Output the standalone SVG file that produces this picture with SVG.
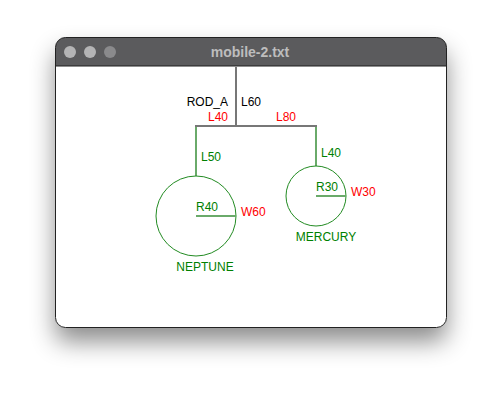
<svg xmlns="http://www.w3.org/2000/svg" width="502" height="402" viewBox="0 0 502 402">
<defs>
<filter id="shadow" x="-30%" y="-30%" width="160%" height="170%">
<feDropShadow dx="0" dy="14" stdDeviation="12" flood-color="#000" flood-opacity="0.45"/>
</filter>
<clipPath id="win"><rect x="55.5" y="37.5" width="391" height="290" rx="10"/></clipPath>
</defs>
<style>
text{font-family:"Liberation Sans",Arial,Helvetica,sans-serif;font-size:12px}
.blk{fill:#000}
.red{fill:#ff0000}
.grn{fill:#008000}
.rod{stroke:#777;stroke-width:2;fill:none}
.gl{stroke:#6aaa6a;stroke-width:2;fill:none}
.circ{stroke:#228b22;stroke-width:1;fill:none}
</style>
<rect width="502" height="402" fill="#fff"/>
<g id="window">
<rect x="55.5" y="37.5" width="391" height="290" rx="10" fill="#fff" filter="url(#shadow)"/>
<g clip-path="url(#win)">
<rect x="55" y="37" width="392" height="29" fill="#5b5b5d"/>
<line x1="55" y1="66" x2="447" y2="66" stroke="#1e1e1e" stroke-width="1"/>
</g>
<rect x="55.5" y="37.5" width="391" height="290" rx="10" fill="none" stroke="#222" stroke-width="1"/>
<circle cx="70" cy="52" r="6" fill="#c4c4c4" opacity="0.85"/>
<circle cx="90" cy="52" r="6" fill="#c4c4c4" opacity="0.85"/>
<circle cx="110" cy="52" r="6" fill="#8a8a8c"/>
<text x="250" y="57" text-anchor="middle" style="font-size:14px;font-weight:bold" fill="#bdbdbd">mobile-2.txt</text>
</g>
<g id="connectors">
<line class="rod" x1="236" y1="67" x2="236" y2="126"/>
<line class="rod" x1="195" y1="126" x2="317" y2="126"/>
<line class="gl" x1="196" y1="127" x2="196" y2="176"/>
<line class="gl" x1="316" y1="127" x2="316" y2="166"/>
</g>
<g id="rod_a">
<text x="228" y="106" text-anchor="end" class="blk">ROD_A</text>
<text x="241" y="106" class="blk">L60</text>
<text x="228" y="121" text-anchor="end" class="red">L40</text>
<text x="276" y="121" class="red">L80</text>
</g>
<g id="neptune">
<text x="201" y="161" class="grn">L50</text>
<circle class="circ" cx="196" cy="216" r="40"/>
<line class="gl" x1="196" y1="216" x2="236" y2="216"/>
<text x="196" y="211" class="grn">R40</text>
<text x="241" y="216" class="red">W60</text>
<text x="205" y="271" text-anchor="middle" class="grn">NEPTUNE</text>
</g>
<g id="mercury">
<text x="321" y="157" class="grn">L40</text>
<circle class="circ" cx="316" cy="196" r="30"/>
<line class="gl" x1="316" y1="196" x2="346" y2="196"/>
<text x="316" y="191" class="grn">R30</text>
<text x="351" y="196" class="red">W30</text>
<text x="326" y="241" text-anchor="middle" class="grn">MERCURY</text>
</g>
</svg>
